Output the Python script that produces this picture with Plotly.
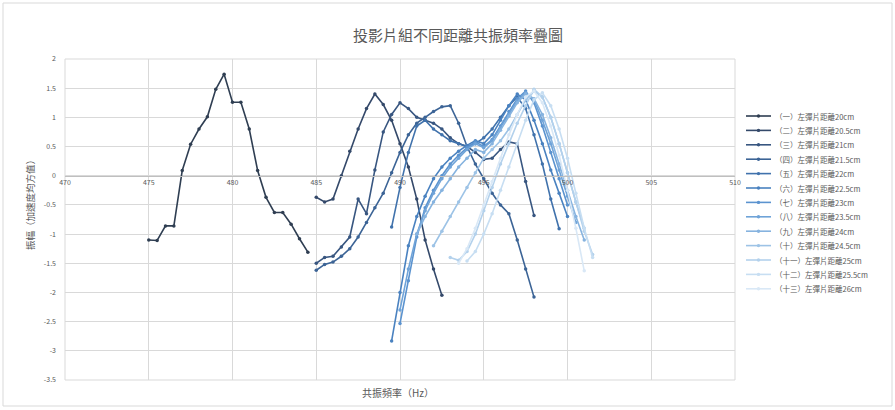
import plotly.graph_objects as go

# ---------------- data ----------------
title_text = "投影片組不同距離共振頻率疊圖"
x_title = "共振頻率（Hz）"
y_title = "振幅（加速度均方值）"

series_names = [
    "（一）左彈片距離20cm", "（二）左彈片距離20.5cm", "（三）左彈片距離21cm",
    "（四）左彈片距離21.5cm", "（五）左彈片距離22cm", "（六）左彈片距離22.5cm",
    "（七）左彈片距離23cm", "（八）左彈片距離23.5cm", "（九）左彈片距離24cm",
    "（十）左彈片距離24.5cm", "（十一）左彈片距離25cm", "（十二）左彈片距離25.5cm",
    "（十三）左彈片距離26cm",
]

start_freq = [475, 485, 485, 485, 489.5, 489.5, 490, 490, 491, 492, 493, 494, 493.5]

s1 = [-1.10, -1.11, -0.86, -0.86, 0.09, 0.54, 0.80, 1.01, 1.48, 1.74, 1.26, 1.26, 0.80, 0.09, -0.37, -0.63, -0.63, -0.83, -1.08, -1.31]
s2 = [-0.37, -0.45, -0.40, 0.00, 0.42, 0.80, 1.15, 1.40, 1.22, 0.95, 0.55, 0.15, -0.40, -1.10, -1.60, -2.05]
s3 = [-1.50, -1.40, -1.38, -1.22, -1.05, -0.40, -0.65, 0.10, 0.75, 1.05, 1.25, 1.15, 1.00, 0.95, 0.90, 0.80, 0.65, 0.55, 0.50, 0.40, 0.28, 0.30, 0.45, 0.58, 0.55, -0.10, -0.68]
s4 = [-1.62, -1.52, -1.48, -1.38, -1.25, -1.05, -0.80, -0.55, -0.30, 0.05, 0.40, 0.70, 0.90, 1.00, 1.10, 1.18, 1.20, 0.90, 0.50, 0.20, -0.05, -0.30, -0.50, -0.65, -1.10, -1.60, -2.08]
s5 = [-0.88, -0.20, 0.40, 0.85, 0.95, 0.80, 0.70, 0.60, 0.55, 0.50, 0.55, 0.65, 0.80, 1.00, 1.20, 1.35, 1.15, 0.70, 0.20, -0.40, -0.91]
s6 = [-2.83, -2.00, -1.20, -0.70, -0.35, -0.05, 0.15, 0.30, 0.42, 0.52, 0.60, 0.55, 0.70, 0.95, 1.20, 1.40, 1.30, 0.95, 0.55, 0.10, -0.30, -0.70]
s7 = [-2.53, -1.80, -1.05, -0.55, -0.25, 0.00, 0.20, 0.35, 0.48, 0.58, 0.50, 0.62, 0.85, 1.10, 1.32, 1.45, 1.25, 0.85, 0.40, -0.05, -0.50]
s8 = [-2.30, -1.60, -1.00, -0.60, -0.30, -0.05, 0.15, 0.30, 0.45, 0.55, 0.48, 0.60, 0.82, 1.05, 1.28, 1.42, 1.30, 0.95, 0.55, 0.10, -0.35, -0.80]
s9 = [-1.00, -0.70, -0.45, -0.25, -0.05, 0.15, 0.30, 0.45, 0.40, 0.55, 0.78, 1.02, 1.25, 1.40, 1.32, 1.05, 0.65, 0.20, -0.25, -0.70, -1.10]
s10 = [-1.20, -0.95, -0.70, -0.45, -0.20, 0.05, 0.30, 0.45, 0.60, 0.80, 1.05, 1.30, 1.45, 1.35, 1.00, 0.55, 0.05, -0.45, -0.90]
s11 = [-1.40, -1.45, -1.30, -1.00, -0.60, -0.20, 0.20, 0.55, 0.90, 1.20, 1.48, 1.35, 1.00, 0.55, 0.05, -0.45, -0.95, -1.35]
s12 = [-1.46, -1.30, -1.00, -0.65, -0.25, 0.15, 0.55, 0.95, 1.30, 1.42, 1.20, 0.80, 0.30, -0.30, -0.90, -1.40]
s13 = [-1.50, -1.25, -0.90, -0.50, -0.10, 0.30, 0.70, 1.05, 1.35, 1.45, 1.25, 0.85, 0.35, -0.25, -0.90, -1.63]
all_values = [s1, s2, s3, s4, s5, s6, s7, s8, s9, s10, s11, s12, s13]
freq_step = 0.5

x_ticks = [470, 475, 480, 485, 490, 495, 500, 505, 510]
y_ticks = [2, 1.5, 1, 0.5, 0, -0.5, -1, -1.5, -2, -2.5, -3, -3.5]
y_tick_labels = ["2", "1.5", "1", "0.5", "0", "-0.5", "-1", "-1.5", "-2", "-2.5", "-3", "-3.5"]

# ---------------- style ----------------
colors = ["#2F3E52", "#34496A", "#385680", "#3C6496", "#4072AC", "#4A82C0", "#5B93CF",
          "#6FA3D8", "#86B3DF", "#9DC3E6", "#B3D1EC", "#C7DEF2", "#D9E8F6"]
FONT = "Noto Sans CJK TC"
TXT = "#595959"
W, H = 895, 410
L, R, T, B = 65, 160, 59, 30
plot_w, plot_h = W - L - R, H - T - B


def px_x(px):
    return (px - L) / plot_w


def px_y(py):
    return (T + plot_h - py) / plot_h


fig = go.Figure()
for name, f0, vals, c in zip(series_names, start_freq, all_values, colors):
    xs = [f0 + i * freq_step for i in range(len(vals))]
    fig.add_trace(go.Scatter(x=xs, y=vals, name=name, mode="lines+markers",
                             line=dict(color=c, width=1.6),
                             marker=dict(color=c, size=3.5), showlegend=False))

zero_pos = (0 - y_ticks[-1]) / (y_ticks[0] - y_ticks[-1])

annotations = [
    dict(text=title_text, xref="paper", yref="paper", x=px_x(458), y=px_y(34),
         xanchor="center", yanchor="middle", showarrow=False, font=dict(size=15, color=TXT)),
    dict(text=x_title, xref="paper", yref="paper", x=px_x(398), y=px_y(392),
         xanchor="center", yanchor="middle", showarrow=False, font=dict(size=10, color=TXT)),
    dict(text=y_title, xref="paper", yref="paper", x=px_x(30), y=px_y(203),
         xanchor="center", yanchor="middle", showarrow=False, textangle=-90,
         font=dict(size=9.5, color=TXT)),
]
shapes = [
    dict(type="rect", xref="paper", yref="paper", x0=0, x1=1, y0=0, y1=1,
         line=dict(color="#D9D9D9", width=1), layer="below"),
    dict(type="rect", xref="paper", yref="paper", x0=px_x(3), x1=px_x(892),
         y0=px_y(406), y1=px_y(3), line=dict(color="#D9D9D9", width=1)),
]

# custom compact legend (matches the tight Excel spacing)
leg_top, leg_gap = 116, 14.4
for i, (name, c) in enumerate(zip(series_names, colors)):
    yy = leg_top + i * leg_gap
    shapes.append(dict(type="line", xref="paper", yref="paper", x0=px_x(746), x1=px_x(771),
                       y0=px_y(yy), y1=px_y(yy), line=dict(color=c, width=1.6)))
    shapes.append(dict(type="circle", xref="paper", yref="paper", x0=px_x(756.8), x1=px_x(760.2),
                       y0=px_y(yy + 1.7), y1=px_y(yy - 1.7), fillcolor=c, line=dict(color=c, width=0)))
    annotations.append(dict(text=name, xref="paper", yref="paper", x=px_x(773), y=px_y(yy),
                            xanchor="left", yanchor="middle", showarrow=False,
                            font=dict(size=7.5, color=TXT)))

fig.update_layout(
    width=W, height=H, margin=dict(l=L, r=R, t=T, b=B),
    paper_bgcolor="white", plot_bgcolor="white",
    font=dict(family=FONT, color=TXT, size=8),
    showlegend=False,
    xaxis=dict(range=[470, 510], tickvals=x_ticks, showgrid=True, gridcolor="#D9D9D9",
               gridwidth=1, zeroline=False, anchor="free", position=zero_pos,
               showline=True, linecolor="#BFBFBF", ticks="", tickfont=dict(size=7, color=TXT)),
    yaxis=dict(range=[-3.5, 2], tickvals=y_ticks, ticktext=y_tick_labels, showgrid=True,
               gridcolor="#D9D9D9", zeroline=False, ticks="", ticklabelstandoff=8,
               tickfont=dict(size=7, color=TXT)),
    annotations=annotations,
    shapes=shapes,
)

fig.write_html("out.html", config={"displayModeBar": False},
               post_script="document.body.style.margin='0px';")
